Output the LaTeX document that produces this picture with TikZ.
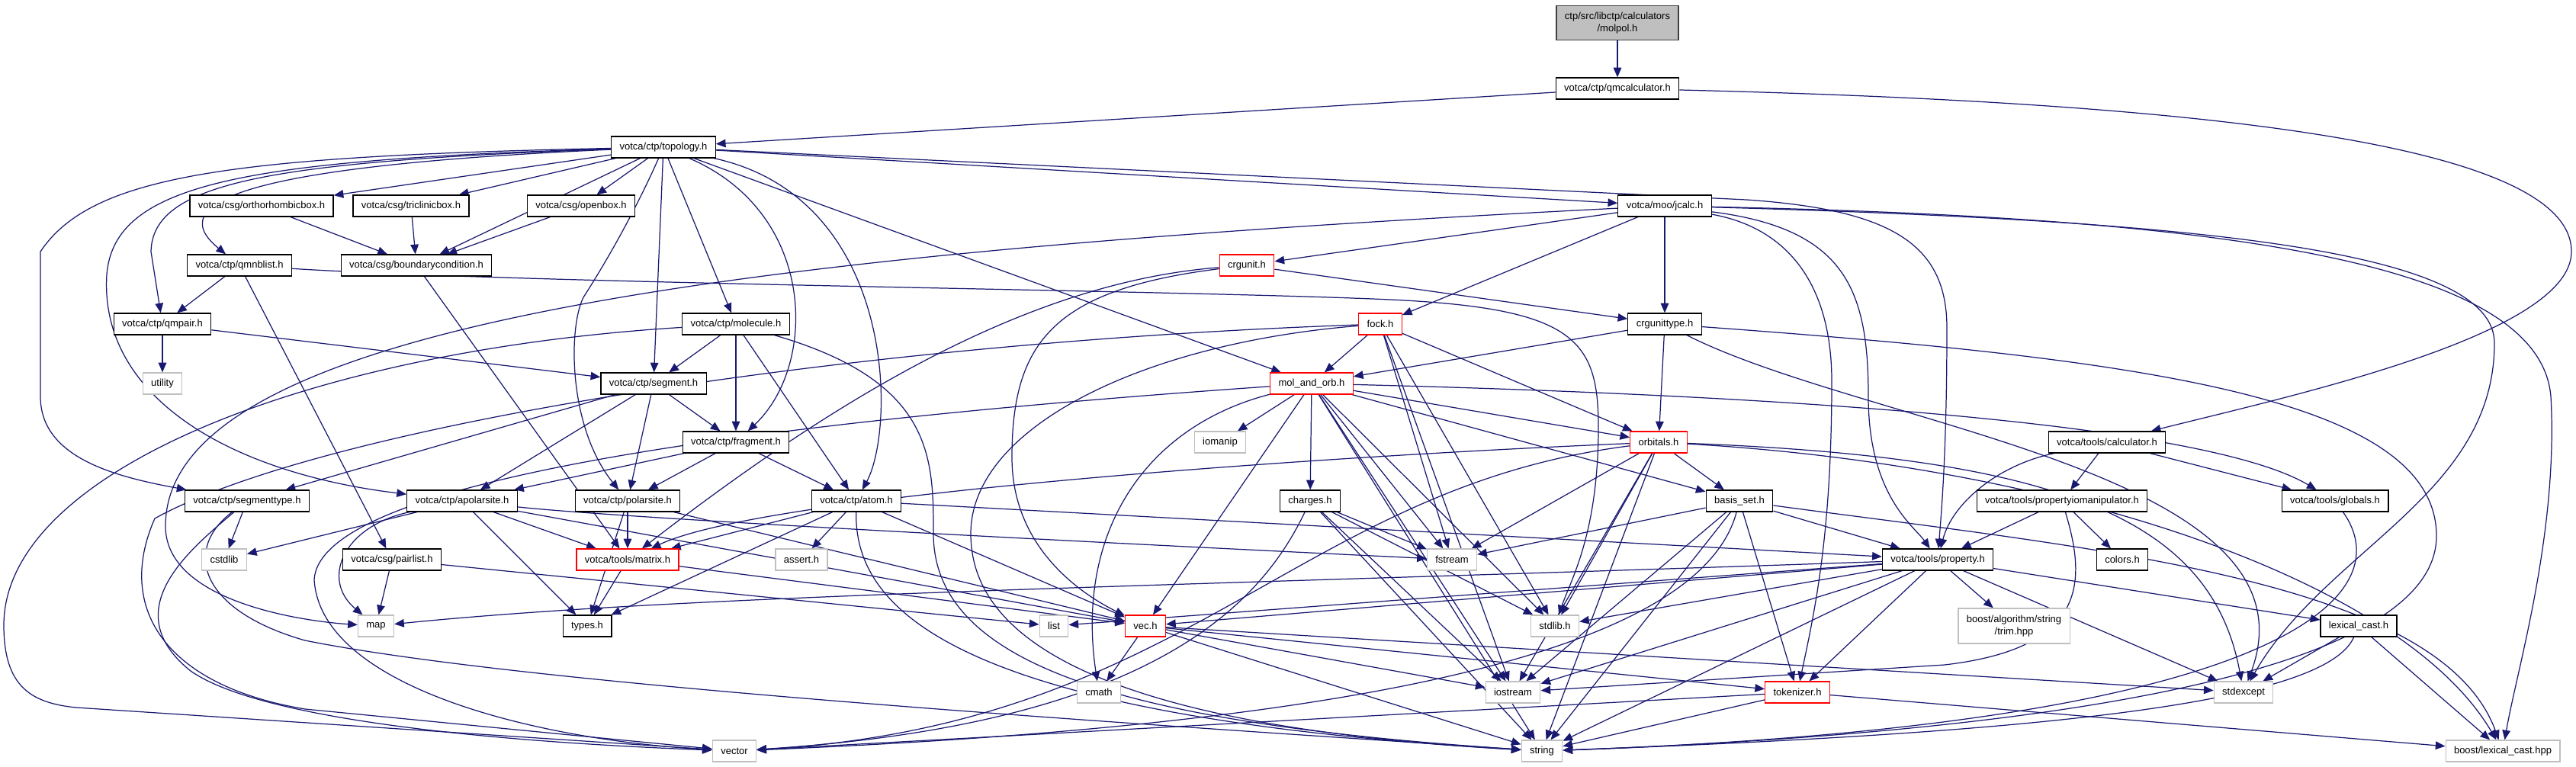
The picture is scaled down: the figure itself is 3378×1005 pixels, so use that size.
\documentclass[tikz,border=0pt]{standalone}
\usepackage{fontspec}
\setmainfont{Liberation Sans}
\usepackage{xcolor}
\usetikzlibrary{arrows.meta, backgrounds}

\definecolor{edgeblue}{RGB}{25,25,112}
\definecolor{sysgray}{RGB}{191,191,191}
\definecolor{rootgray}{RGB}{191,191,191}

\begin{document}
\begin{tikzpicture}[x=0.01cm, y=-0.01cm, font=\fontsize{3.7pt}{4.7pt}\selectfont,
  hdr/.style={draw=black, fill=white, line width=0.35pt, minimum height=0.28cm,
              inner xsep=3.1pt, inner ysep=1.6pt, align=center},
  trunc/.style={hdr, draw=red},
  sys/.style={hdr, draw=sysgray},
  root/.style={hdr, draw=black!75, fill=rootgray},
  inc/.style={draw=edgeblue, line width=0.35pt, -{Triangle[length=3.6pt, width=3pt]}}]

  \useasboundingbox (0,0) rectangle (3378,1005);

  % top of the include tree
  \node[root, minimum height=0.45cm] (molpol) at (2121,30) {ctp/src/libctp/calculators\\/molpol.h};
  \node[hdr] (qmcalc) at (2121,116) {votca/ctp/qmcalculator.h};
  \node[hdr] (topo) at (870,193) {votca/ctp/topology.h};

  % csg / ctp headers
  \node[hdr] (ortho) at (343,270) {votca/csg/orthorhombicbox.h};
  \node[hdr] (tricl) at (539,270) {votca/csg/triclinicbox.h};
  \node[hdr] (openbox) at (762,270) {votca/csg/openbox.h};
  \node[hdr] (jcalc) at (2183,270) {votca/moo/jcalc.h};
  \node[hdr] (qmnb) at (314,348) {votca/ctp/qmnblist.h};
  \node[hdr] (bcond) at (546,348) {votca/csg/boundarycondition.h};
  \node[trunc] (crgunit) at (1635,348) {crgunit.h};
  \node[hdr] (qmpair) at (213,425) {votca/ctp/qmpair.h};
  \node[hdr] (molec) at (965,425) {votca/ctp/molecule.h};
  \node[trunc] (fock) at (1810,425) {fock.h};
  \node[hdr] (crgtype) at (2183,425) {crgunittype.h};
  \node[sys] (utility) at (213,503) {utility};
  \node[hdr] (segment) at (857,503) {votca/ctp/segment.h};
  \node[trunc] (molorb) at (1720,503) {mol\_and\_orb.h};
  \node[hdr] (frag) at (965,580) {votca/ctp/fragment.h};
  \node[sys] (iomanip) at (1600,580) {iomanip};
  \node[trunc] (orbitals) at (2175,580) {orbitals.h};
  \node[hdr] (calc) at (2763,580) {votca/tools/calculator.h};
  \node[hdr] (segtype) at (324,657) {votca/ctp/segmenttype.h};
  \node[hdr] (apolar) at (606,657) {votca/ctp/apolarsite.h};
  \node[hdr] (polar) at (823,657) {votca/ctp/polarsite.h};
  \node[hdr] (atom) at (1123,657) {votca/ctp/atom.h};
  \node[hdr] (charges) at (1718,657) {charges.h};
  \node[hdr] (basis) at (2281,657) {basis\_set.h};
  \node[hdr] (propio) at (2704,657) {votca/tools/propertyiomanipulator.h};
  \node[hdr] (globals) at (3062,657) {votca/tools/globals.h};

  % lower rows
  \node[sys] (cstdlib) at (294,734) {cstdlib};
  \node[hdr] (pairlist) at (514,734) {votca/csg/pairlist.h};
  \node[trunc] (matrix) at (823,734) {votca/tools/matrix.h};
  \node[sys] (assert) at (1051,734) {assert.h};
  \node[sys] (fstream) at (1904,734) {fstream};
  \node[hdr] (property) at (2541,734) {votca/tools/property.h};
  \node[hdr] (colors) at (2783,734) {colors.h};
  \node[sys] (map) at (493,821) {map};
  \node[hdr] (types) at (770,821) {types.h};
  \node[sys] (list) at (1382,821) {list};
  \node[trunc] (vec) at (1502,821) {vec.h};
  \node[sys] (stdlibh) at (2039,821) {stdlib.h};
  \node[sys, minimum height=0.46cm] (trim) at (2641,821) {boost/algorithm/string\\/trim.hpp};
  \node[hdr] (lexcast) at (3093,821) {lexical\_cast.h};
  \node[sys] (cmath) at (1441,908) {cmath};
  \node[sys] (iostream) at (1984,908) {iostream};
  \node[trunc] (tokenizer) at (2357,908) {tokenizer.h};
  \node[sys] (stdexcept) at (2942,908) {stdexcept};
  \node[sys] (vector) at (963,985) {vector};
  \node[sys] (string) at (2022,985) {string};
  \node[sys] (boostlc) at (3282,985) {boost/lexical\_cast.hpp};

  \begin{scope}[on background layer]
    % straight includes
    \foreach \a/\b in {molpol/qmcalc, qmcalc/topo,
        topo/ortho, topo/tricl, topo/openbox, topo/bcond, topo/jcalc, topo/molec, topo/segment, topo/molorb,
        ortho/bcond, tricl/bcond, openbox/bcond, bcond/matrix,
        qmnb/qmpair, qmnb/pairlist, qmpair/utility, qmpair/segment,
        molec/segment, molec/frag, molec/atom,
        segment/frag, segment/segtype, segment/apolar, segment/polar,
        frag/apolar, frag/polar, frag/atom,
        jcalc/crgunit, jcalc/fock, jcalc/crgtype, crgunit/crgtype,
        fock/molorb, fock/orbitals, fock/fstream, fock/stdlibh, fock/iostream,
        crgtype/molorb, crgtype/orbitals,
        molorb/iomanip, molorb/charges, molorb/orbitals, molorb/basis, molorb/fstream,
        molorb/stdlibh, molorb/iostream, molorb/string, molorb/vec,
        orbitals/basis, orbitals/fstream, orbitals/stdlibh, orbitals/iostream, orbitals/string,
        charges/fstream, charges/stdlibh, charges/iostream, charges/string,
        basis/fstream, basis/property, basis/tokenizer, basis/iostream, basis/string,
        calc/propio, calc/globals, propio/property, propio/colors,
        property/list, property/vec, property/stdlibh, property/iostream, property/string,
        property/tokenizer, property/stdexcept, property/trim, property/lexcast,
        lexcast/stdexcept, lexcast/boostlc,
        tokenizer/vector, tokenizer/string, tokenizer/boostlc,
        segtype/cstdlib, apolar/cstdlib, apolar/types, apolar/matrix, apolar/vec,
        pairlist/map, pairlist/list, polar/matrix, polar/types, polar/vec,
        atom/matrix, atom/assert, atom/vec, atom/types, atom/property,
        matrix/types, matrix/vec,
        vec/cmath, vec/iostream, vec/string, vec/tokenizer, vec/stdexcept}
      \draw[inc] (\a) -- (\b);

    % routed includes
    \draw[inc] (qmcalc) .. controls (2900,135) and (3372,190) .. (3372,330)
               .. controls (3372,440) and (3000,520) .. (calc);
    \draw[inc] (topo) -- (2290,262) .. controls (2480,275) and (2553,320) .. (2553,430)
               .. controls (2553,600) and (2545,680) .. (property);
    \draw[inc] (topo) .. controls (300,205) and (120,230) .. (53,330) -- (53,520)
               .. controls (53,600) and (150,625) .. (segtype);
    \draw[inc] (topo) .. controls (320,210) and (150,240) .. (140,360)
               .. controls (130,520) and (300,620) .. (apolar);
    \draw[inc] (topo) .. controls (350,212) and (200,240) .. (198,330) -- (qmpair);
    \draw[inc] (topo) .. controls (380,215) and (200,255) .. (qmnb);
    \draw[inc] (topo) .. controls (845,250) and (810,320) .. (765,390)
               .. controls (745,430) and (745,560) .. (polar);
    \draw[inc] (topo) .. controls (1072,280) and (1072,480) .. (frag);
    \draw[inc] (topo) .. controls (1175,260) and (1175,560) .. (atom);
    \draw[inc] (jcalc) .. controls (1000,330) and (217,420) .. (217,690)
               .. controls (217,790) and (400,815) .. (map);
    \draw[inc] (jcalc) .. controls (2350,300) and (2402,380) .. (2402,500)
               .. controls (2402,700) and (2380,800) .. (tokenizer);
    \draw[inc] (jcalc) .. controls (2420,300) and (2450,380) .. (2450,520)
               .. controls (2450,650) and (2510,690) .. (property);
    \draw[inc] (jcalc) .. controls (2900,290) and (3271,330) .. (3271,450)
               .. controls (3271,650) and (3050,720) .. (stdexcept);
    \draw[inc] (jcalc) .. controls (2900,285) and (3330,340) .. (3345,520)
               .. controls (3355,700) and (3300,880) .. (boostlc);
    \draw[inc] (qmnb) .. controls (700,372) and (1500,380) .. (1800,392)
               .. controls (2060,402) and (2096,440) .. (2096,560)
               .. controls (2096,700) and (2060,760) .. (stdlibh);
    \draw[inc] (molec) .. controls (400,460) and (5,620) .. (5,820)
               .. controls (5,900) and (40,922) .. (100,928) -- (vector);
    \draw[inc] (molec) .. controls (1224,500) and (1224,600) .. (1224,700)
               .. controls (1224,880) and (1500,950) .. (string);
    \draw[inc] (fock) .. controls (1100,450) and (420,560) .. (203,680)
               .. controls (150,800) and (220,900) .. (400,930) -- (vector);
    \draw[inc] (fock) .. controls (1500,450) and (1273,560) .. (1273,700)
               .. controls (1273,820) and (1400,950) .. (string);
    \draw[inc] (segtype) .. controls (250,720) and (150,800) .. (250,880)
               .. controls (350,950) and (700,975) .. (vector);
    \draw[inc] (segtype) .. controls (240,720) and (260,800) .. (400,840)
               .. controls (700,900) and (1500,950) .. (string);
    \draw[inc] (molorb) .. controls (900,560) and (420,640) .. (412,760)
               .. controls (420,900) and (700,970) .. (vector);
    \draw[inc] (molorb) .. controls (1500,560) and (1410,700) .. (cmath);
    \draw[inc] (molorb) .. controls (2400,520) and (2900,560) .. (globals);
    \draw[inc] (crgunit) .. controls (1350,370) and (1100,520) .. (matrix);
    \draw[inc] (crgunit) .. controls (1380,380) and (1327,450) .. (1327,600)
               .. controls (1327,720) and (1420,780) .. (vec);
    \draw[inc] (crgtype) .. controls (2800,470) and (3190,520) .. (3195,700)
               .. controls (3200,880) and (2700,960) .. (string);
    \draw[inc] (crgtype) .. controls (2450,560) and (3050,620) .. (stdexcept);
    \draw[inc] (orbitals) .. controls (1700,600) and (1000,650) .. (matrix);
    \draw[inc] (orbitals) .. controls (1700,640) and (1560,950) .. (vector);
    \draw[inc] (orbitals) .. controls (2700,600) and (2900,680) .. (stdexcept);
    \draw[inc] (orbitals) .. controls (2700,610) and (3150,760) .. (boostlc);
    \draw[inc] (charges) .. controls (1650,800) and (1500,950) .. (vector);
    \draw[inc] (basis) .. controls (2230,850) and (1800,950) .. (vector);
    \draw[inc] (basis) .. controls (2750,720) and (3200,760) .. (boostlc);
    \draw[inc] (calc) .. controls (2620,610) and (2560,660) .. (property);
    \draw[inc] (propio) .. controls (2735,760) and (2740,850) .. (2550,872) -- (iostream);
    \draw[inc] (property) .. controls (1500,770) and (900,780) .. (map);
    \draw[inc] (apolar) .. controls (450,690) and (420,760) .. (map);
    \draw[inc] (apolar) .. controls (800,678) and (1300,705) .. (fstream);
    \draw[inc] (atom) .. controls (1120,800) and (1250,940) .. (string);
    \draw[inc] (globals) .. controls (3150,780) and (3000,950) .. (string);
    \draw[inc] (lexcast) .. controls (3050,920) and (2700,960) .. (string);
  \end{scope}
\end{tikzpicture}
\end{document}
